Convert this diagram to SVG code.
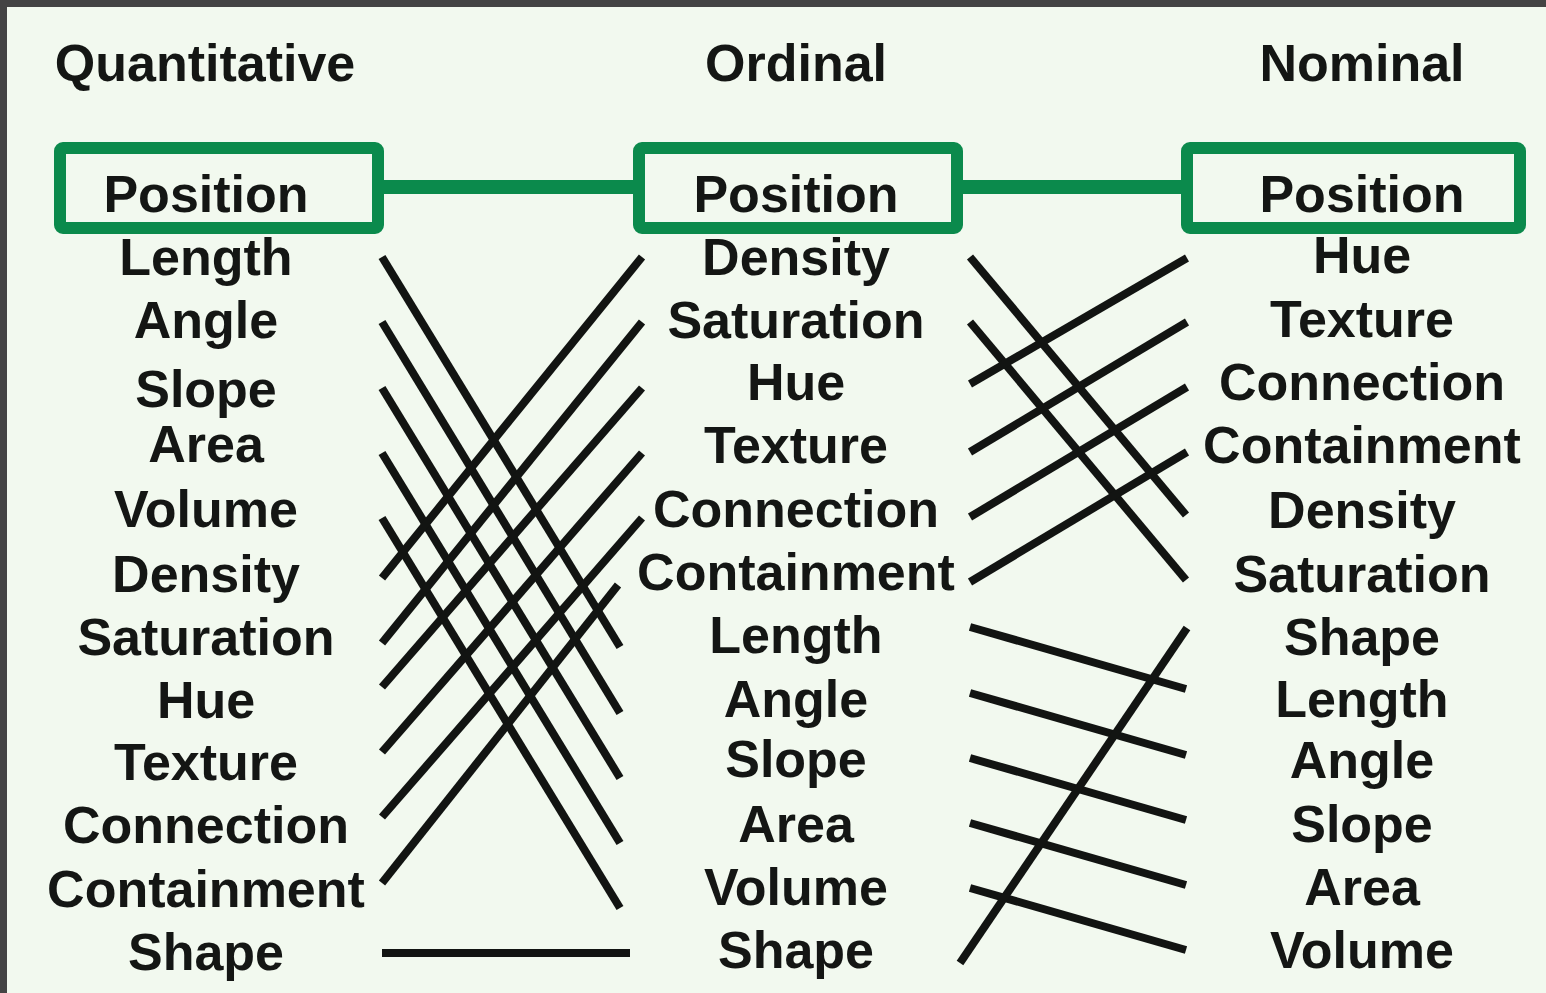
<svg xmlns="http://www.w3.org/2000/svg" width="1546" height="993" viewBox="0 0 1546 993">
<style>
text{font-family:"Liberation Sans",Arial,sans-serif;font-weight:bold;font-size:52px;fill:#141614;text-anchor:middle}
.box{fill:none;stroke:#0b8a4c;stroke-width:12}
.bar{stroke:#0b8a4c;stroke-width:14}
.ln{stroke:#121412;stroke-width:8;stroke-linecap:butt}
</style>
<rect x="0" y="0" width="1546" height="993" fill="#f2f9ef"/>
<rect x="0" y="0" width="1546" height="7" fill="#444444"/>
<rect x="0" y="0" width="7" height="993" fill="#444444"/>
<g id="headers">
<text x="205" y="81">Quantitative</text>
<text x="796" y="81">Ordinal</text>
<text x="1362" y="81">Nominal</text>
</g>
<g id="connectors">
<line class="bar" x1="384" y1="187" x2="633" y2="187"/>
<line class="bar" x1="963" y1="187" x2="1181" y2="187"/>
<line class="ln" x1="382" y1="257" x2="620" y2="647"/>
<line class="ln" x1="382" y1="322" x2="620" y2="713"/>
<line class="ln" x1="382" y1="388" x2="620" y2="778"/>
<line class="ln" x1="382" y1="453" x2="620" y2="843"/>
<line class="ln" x1="382" y1="518" x2="620" y2="908"/>
<line class="ln" x1="382" y1="578" x2="642" y2="257"/>
<line class="ln" x1="382" y1="643" x2="642" y2="322"/>
<line class="ln" x1="382" y1="687" x2="642" y2="388"/>
<line class="ln" x1="382" y1="752" x2="642" y2="453"/>
<line class="ln" x1="382" y1="817" x2="642" y2="518"/>
<line class="ln" x1="382" y1="883" x2="618" y2="585"/>
<line class="ln" x1="382" y1="953" x2="630" y2="953"/>
<line class="ln" x1="970" y1="257" x2="1186" y2="515"/>
<line class="ln" x1="970" y1="322" x2="1186" y2="580"/>
<line class="ln" x1="970" y1="384" x2="1187" y2="258"/>
<line class="ln" x1="970" y1="452" x2="1187" y2="322"/>
<line class="ln" x1="970" y1="517" x2="1187" y2="387"/>
<line class="ln" x1="970" y1="582" x2="1187" y2="452"/>
<line class="ln" x1="970" y1="627" x2="1186" y2="689"/>
<line class="ln" x1="970" y1="693" x2="1186" y2="755"/>
<line class="ln" x1="970" y1="758" x2="1186" y2="820"/>
<line class="ln" x1="970" y1="823" x2="1186" y2="885"/>
<line class="ln" x1="970" y1="888" x2="1186" y2="950"/>
<line class="ln" x1="960" y1="963" x2="1187" y2="628"/>
</g>
<g id="quantitative">
<rect class="box" x="60" y="148" width="318" height="80" rx="3"/>
<text x="206" y="212">Position</text>
<text x="206" y="275">Length</text>
<text x="206" y="338">Angle</text>
<text x="206" y="407">Slope</text>
<text x="206" y="462">Area</text>
<text x="206" y="527">Volume</text>
<text x="206" y="592">Density</text>
<text x="206" y="655">Saturation</text>
<text x="206" y="718">Hue</text>
<text x="206" y="780">Texture</text>
<text x="206" y="843">Connection</text>
<text x="206" y="907">Containment</text>
<text x="206" y="970">Shape</text>
</g>
<g id="ordinal">
<rect class="box" x="639" y="148" width="318" height="80" rx="3"/>
<text x="796" y="212">Position</text>
<text x="796" y="275">Density</text>
<text x="796" y="338">Saturation</text>
<text x="796" y="400">Hue</text>
<text x="796" y="463">Texture</text>
<text x="796" y="527">Connection</text>
<text x="796" y="590">Containment</text>
<text x="796" y="653">Length</text>
<text x="796" y="717">Angle</text>
<text x="796" y="777">Slope</text>
<text x="796" y="842">Area</text>
<text x="796" y="905">Volume</text>
<text x="796" y="968">Shape</text>
</g>
<g id="nominal">
<rect class="box" x="1187" y="148" width="333" height="80" rx="3"/>
<text x="1362" y="212">Position</text>
<text x="1362" y="273">Hue</text>
<text x="1362" y="337">Texture</text>
<text x="1362" y="400">Connection</text>
<text x="1362" y="463">Containment</text>
<text x="1362" y="528">Density</text>
<text x="1362" y="592">Saturation</text>
<text x="1362" y="655">Shape</text>
<text x="1362" y="717">Length</text>
<text x="1362" y="778">Angle</text>
<text x="1362" y="842">Slope</text>
<text x="1362" y="905">Area</text>
<text x="1362" y="968">Volume</text>
</g>
</svg>
